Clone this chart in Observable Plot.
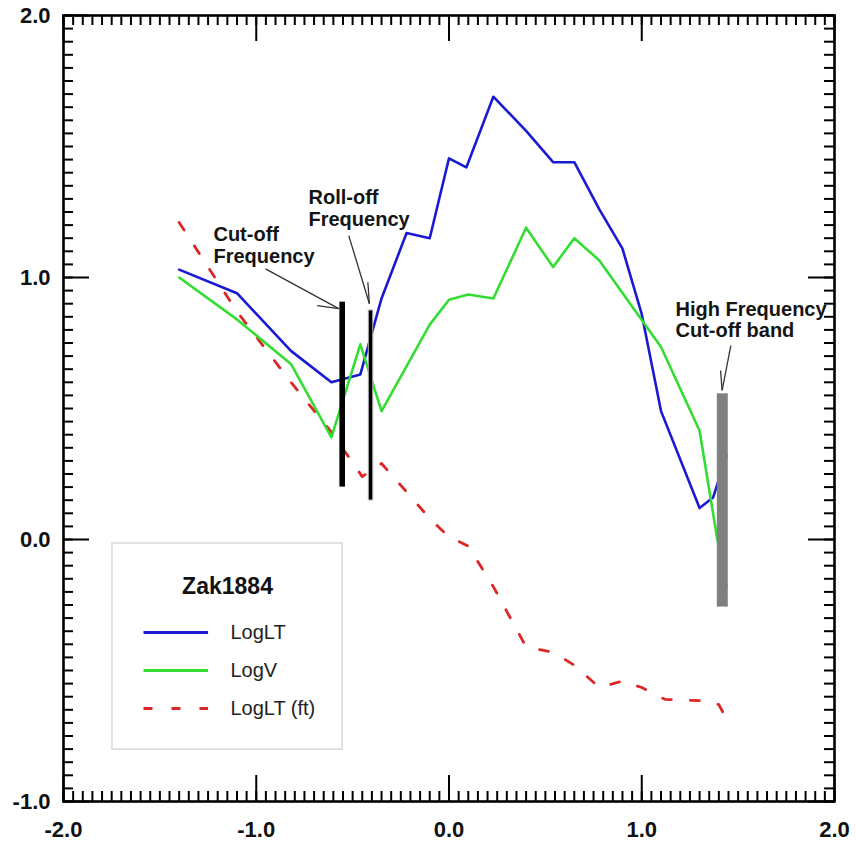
<!DOCTYPE html>
<html><head><meta charset="utf-8">
<script src="https://cdn.jsdelivr.net/npm/d3@7"></script>
<script src="https://cdn.jsdelivr.net/npm/@observablehq/plot@0.6"></script>
<style>body{margin:0;background:#fff} #chart{width:856px;height:845px}</style>
</head><body><div id="chart"></div>
<script>
// ---- series ----
const blueX = [-1.40,-1.10,-0.82,-0.61,-0.46,-0.35,-0.22,-0.10,0.00,0.09,0.23,0.40,0.54,0.65,0.78,0.90,1.00,1.10,1.30,1.37,1.44];
const blueY = [1.03,0.94,0.72,0.60,0.63,0.92,1.17,1.15,1.455,1.42,1.69,1.56,1.44,1.44,1.26,1.11,0.86,0.49,0.12,0.16,0.32];
const greenX = [-1.40,-1.10,-0.82,-0.61,-0.46,-0.35,-0.10,0.00,0.10,0.23,0.40,0.54,0.65,0.78,1.10,1.30,1.39,1.44];
const greenY = [1.00,0.84,0.67,0.39,0.745,0.49,0.82,0.915,0.935,0.92,1.19,1.04,1.15,1.065,0.735,0.415,0.01,-0.18];
const redX = [-1.40,-1.10,-0.82,-0.61,-0.45,-0.35,-0.23,-0.10,0.00,0.10,0.23,0.40,0.54,0.65,0.78,0.90,1.00,1.12,1.30,1.40,1.45];
const redY = [1.21,0.87,0.60,0.41,0.24,0.29,0.19,0.08,0.01,-0.025,-0.18,-0.41,-0.43,-0.48,-0.565,-0.54,-0.565,-0.61,-0.615,-0.63,-0.70];

// ---- axes ----
const xMajor = [-2, -1, 0, 1, 2];
const yMajor = [-1, 0, 1, 2];
const xMinor = d3.range(-2, 2.0001, 0.05);
const yMinor = d3.range(-1, 2.0001, 0.05);

// ---- annotations (data units) ----
const barX1 = [-0.566, -0.416, 1.392];
const barX2 = [-0.537, -0.393, 1.449];
const barY1 = [0.200, 0.149, -0.258];
const barY2 = [0.906, 0.874, 0.556];
const barFill = ["#000", "#000", "#808080"];
const barStroke = ["none", "#b0b0b0", "none"];

const leadX1 = [-0.952, -0.684, -0.520, -0.421, 1.462, 1.409];
const leadY1 = [1.033, 0.893, 1.160, 0.982, 0.740, 0.645];
const leadX2 = [-0.572, -0.572, -0.413, -0.413, 1.417, 1.417];
const leadY2 = [0.881, 0.881, 0.900, 0.900, 0.569, 0.569];

const noteText = ["Cut-off\nFrequency", "Roll-off\nFrequency", "High Frequency\nCut-off band"];
const noteX = [-1.222, -0.729, 1.175];
const noteY = [1.198, 1.339, 0.912];

// ---- legend ----
const legendTitle = "Zak1884";
const legendNames = ["LogLT", "LogV", "LogLT (ft)"];
const legendColors = ["#1a1ad2", "#33dd33", "#dd2626"];
const legendDash = [null, null, "9,19"];
const legendRowY = [-0.355, -0.5, -0.645];

const rows = (xs, ys) => xs.map((x, i) => ({x, y: ys[i]}));
const bars = barX1.map((x1, i) => ({x1, x2: barX2[i], y1: barY1[i], y2: barY2[i], fill: barFill[i], stroke: barStroke[i]}));
const leads = leadX1.map((x1, i) => ({x1, y1: leadY1[i], x2: leadX2[i], y2: leadY2[i]}));
const notes = noteText.map((t, i) => ({t, x: noteX[i], y: noteY[i]}));

const PH = 845 - 15 - 44, PW = 856 - 63 - 22;
const font = "'Liberation Sans', Arial, Helvetica, sans-serif";

const legendMarks = [
  Plot.rect([{x1: -1.746, x2: -0.5525, y1: -0.802, y2: -0.0153}], {x1: "x1", x2: "x2", y1: "y1", y2: "y2", fill: "white", stroke: "#d8d8d8", strokeWidth: 1.5}),
  Plot.text([legendTitle], {x: -1.149, y: -0.179, text: d => d, fontSize: 23, fontWeight: "bold", fill: "#111", textAnchor: "middle"})
];
legendNames.forEach((n, i) => {
  legendMarks.push(Plot.link([{y: legendRowY[i]}], {x1: -1.585, x2: -1.250, y1: "y", y2: "y", stroke: legendColors[i], strokeWidth: 3, strokeDasharray: legendDash[i] || undefined}));
  legendMarks.push(Plot.text([n], {x: -1.134, y: legendRowY[i], text: d => d, fontSize: 20, fill: "#222", textAnchor: "start"}));
});

const tickStyle = {stroke: "black", strokeWidth: 2};

const plot = Plot.plot({
  width: 856, height: 845,
  marginLeft: 63, marginRight: 22, marginTop: 15, marginBottom: 44,
  x: {domain: [-2, 2]},
  y: {domain: [-1, 2]},
  style: {fontFamily: font, background: "#fff", overflow: "visible"},
  marks: [
    Plot.axisX({ticks: xMajor, tickSize: 0, tickPadding: 20, tickFormat: d => d.toFixed(1), fontSize: 22, fontWeight: "bold", label: null, fill: "#111"}),
    Plot.axisY({ticks: yMajor, tickSize: 0, tickPadding: 13, tickFormat: d => d.toFixed(1), fontSize: 22, fontWeight: "bold", label: null, fill: "#111"}),
    Plot.line(rows(redX, redY), {x: "x", y: "y", stroke: legendColors[2], strokeWidth: 2.8, strokeDasharray: "9,19"}),
    Plot.line(rows(blueX, blueY), {x: "x", y: "y", stroke: legendColors[0], strokeWidth: 2.6}),
    Plot.line(rows(greenX, greenY), {x: "x", y: "y", stroke: legendColors[1], strokeWidth: 2.6}),
    Plot.rect(bars, {x1: "x1", x2: "x2", y1: "y1", y2: "y2", fill: d => d.fill, stroke: d => d.stroke, strokeWidth: 1}),
    Plot.link(leads, {x1: "x1", y1: "y1", x2: "x2", y2: "y2", stroke: "#333", strokeWidth: 1.3}),
    Plot.text(notes, {x: "x", y: "y", text: "t", textAnchor: "start", lineAnchor: "top", fontSize: 20, fontWeight: "bold", lineHeight: 1.08, fill: "#151515"}),
    ...legendMarks,
    Plot.tickX(xMinor, {x: d => d, insetTop: PH - 10, ...tickStyle}),
    Plot.tickX(xMinor, {x: d => d, insetBottom: PH - 10, ...tickStyle}),
    Plot.tickX(xMajor, {x: d => d, insetTop: PH - 26, ...tickStyle}),
    Plot.tickX(xMajor, {x: d => d, insetBottom: PH - 26, ...tickStyle}),
    Plot.tickY(yMinor, {y: d => d, insetRight: PW - 10, ...tickStyle}),
    Plot.tickY(yMinor, {y: d => d, insetLeft: PW - 10, ...tickStyle}),
    Plot.tickY(yMajor, {y: d => d, insetRight: PW - 26, ...tickStyle}),
    Plot.tickY(yMajor, {y: d => d, insetLeft: PW - 26, ...tickStyle}),
    Plot.frame({stroke: "black", strokeWidth: 2.6})
  ]
});
document.getElementById("chart").appendChild(plot);
</script>
</body></html>
